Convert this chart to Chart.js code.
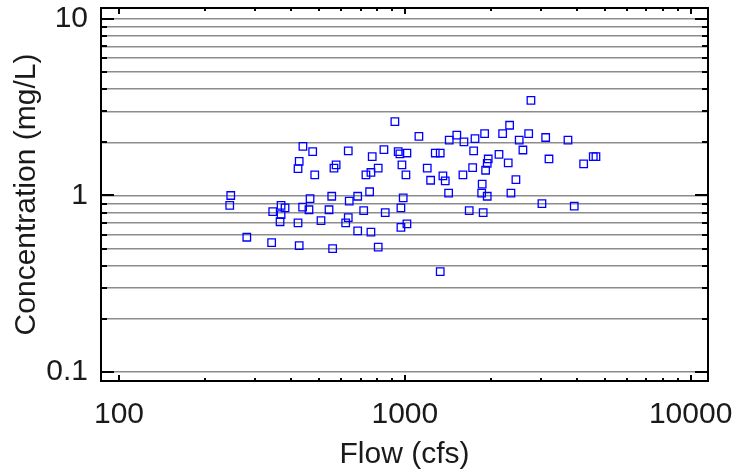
<!DOCTYPE html>
<html lang="en">
<head>
    <meta charset="UTF-8">
    <title>Concentration vs Flow</title>
    <script src="https://cdn.jsdelivr.net/npm/chart.js"></script>
    <style>
        body { margin: 0; background: #fff; }
        #wrap { width: 736px; height: 476px; }
    </style>
</head>
<body>
    <div id="wrap"><canvas id="scatterChart" width="736" height="476"></canvas></div>
    <script>
        // values (log-log axes)
        const flowCfs = [
            923, 1120, 1520, 1430, 1610, 1760, 440, 476, 634, 845,
            948, 961, 1017, 769, 1278, 1330, 1741, 427, 423, 575,
            565, 484, 807, 761, 731, 977, 1009, 1198, 1359, 1231,
            1385, 1597, 1727, 1423, 246, 244, 466, 555, 684, 753,
            987, 639, 369, 381, 345, 369, 439, 462, 543, 718,
            854, 969, 366, 423, 509, 634, 621, 684, 761, 969,
            1017, 280, 342, 427, 559, 807, 1330, 2762, 2326, 2199,
            2712, 1902, 2513, 3110, 3722, 2589, 2135, 1958, 1942, 2300,
            3194, 4223, 4563, 4663, 1917, 2447, 1865, 1857, 1942, 2351,
            1680, 1880, 3018, 3915
        ];
        const concMgL = [
            2.62, 2.16, 2.20, 2.06, 2.01, 2.10, 1.90, 1.77, 1.79, 1.82,
            1.77, 1.72, 1.74, 1.66, 1.74, 1.74, 1.79, 1.56, 1.42, 1.49,
            1.43, 1.31, 1.43, 1.35, 1.31, 1.49, 1.31, 1.43, 1.29, 1.22,
            1.21, 1.31, 1.44, 1.03, 1.00, 0.88, 0.96, 0.99, 0.99, 1.05,
            0.97, 0.93, 0.88, 0.85, 0.81, 0.78, 0.86, 0.83, 0.83, 0.82,
            0.80, 0.85, 0.71, 0.70, 0.72, 0.75, 0.70, 0.63, 0.62, 0.66,
            0.69, 0.58, 0.54, 0.52, 0.50, 0.51, 0.37, 3.46, 2.50, 2.24,
            2.24, 2.24, 2.06, 2.13, 2.06, 1.81, 1.71, 1.61, 1.52, 1.53,
            1.61, 1.51, 1.66, 1.66, 1.39, 1.23, 1.16, 1.03, 0.99, 1.03,
            0.82, 0.80, 0.90, 0.87
        ];
        const xTicks = [100, 200, 300, 400, 500, 600, 700, 800, 900,
                        1000, 2000, 3000, 4000, 5000, 6000, 7000, 8000, 9000, 10000];
        const yTicks = [0.1, 0.2, 0.3, 0.4, 0.5, 0.6, 0.7, 0.8, 0.9,
                        1, 2, 3, 4, 5, 6, 7, 8, 9, 10];
        const xTickLabels = { 100: '100', 1000: '1000', 10000: '10000' };
        const yTickLabels = { 0.1: '0.1', 1: '1', 10: '10' };

        const points = flowCfs.map((f, i) => ({ x: f, y: concMgL[i] }));
        const textColor = '#1a1a1a';
        const font = { family: "'Liberation Sans', Arial, sans-serif", size: 30 };

        function isDecade(v) {
            const l = Math.log10(v);
            return Math.abs(l - Math.round(l)) < 1e-6;
        }

        function noOverflow(s) {
            s.paddingTop = 0; s.paddingBottom = 0;
            s.paddingLeft = 0; s.paddingRight = 0;
        }

        // box frame + inward tick marks on all four sides
        const frameTicks = {
            id: 'frameTicks',
            afterDraw(chart) {
                const { ctx, chartArea: a, scales } = chart;
                ctx.save();
                ctx.strokeStyle = '#000';
                ctx.lineWidth = 2;
                ctx.beginPath();
                yTicks.forEach(v => {
                    const y = Math.round(scales.y.getPixelForValue(v));
                    const len = isDecade(v) ? 13 : 6;
                    ctx.moveTo(a.left, y); ctx.lineTo(a.left + len, y);
                    ctx.moveTo(a.right, y); ctx.lineTo(a.right - len, y);
                });
                xTicks.forEach(v => {
                    const x = Math.round(scales.x.getPixelForValue(v));
                    const len = isDecade(v) ? 6 : 3;
                    ctx.moveTo(x, a.bottom); ctx.lineTo(x, a.bottom - len);
                    ctx.moveTo(x, a.top); ctx.lineTo(x, a.top + len);
                });
                ctx.stroke();
                ctx.strokeRect(a.left, a.top, a.right - a.left, a.bottom - a.top);
                ctx.restore();
            }
        };

        new Chart(document.getElementById('scatterChart'), {
            type: 'scatter',
            data: {
                datasets: [{
                    data: points,
                    pointStyle: 'rect',
                    pointRadius: 5.3,
                    pointHoverRadius: 5.3,
                    borderColor: '#0000ff',
                    backgroundColor: 'rgba(0,0,0,0)',
                    borderWidth: 1.3
                }]
            },
            options: {
                responsive: false,
                animation: false,
                layout: { padding: { top: 8, right: 28, left: 0, bottom: 0 } },
                plugins: { legend: { display: false }, tooltip: { enabled: false } },
                scales: {
                    x: {
                        type: 'logarithmic',
                        min: 86.5,
                        max: 11500,
                        afterBuildTicks: s => { s.ticks = xTicks.map(v => ({ value: v })); },
                        afterFit: s => { s.height = 95; noOverflow(s); },
                        grid: { display: false, drawTicks: false },
                        border: { display: false },
                        ticks: {
                            autoSkip: false,
                            maxRotation: 0,
                            padding: 16,
                            color: textColor,
                            font: font,
                            callback: v => xTickLabels[v] || ''
                        },
                        title: {
                            display: true,
                            text: 'Flow (cfs)',
                            color: textColor,
                            font: font,
                            padding: { top: 0, bottom: 3 }
                        }
                    },
                    y: {
                        type: 'logarithmic',
                        min: 0.0889,
                        max: 11.54,
                        afterBuildTicks: s => { s.ticks = yTicks.map(v => ({ value: v })); },
                        afterFit: s => { s.width = 101; noOverflow(s); },
                        grid: { color: '#8c8c8c', lineWidth: 1.5, drawTicks: false },
                        border: { display: false },
                        ticks: {
                            autoSkip: false,
                            padding: 13,
                            color: textColor,
                            font: font,
                            callback: v => yTickLabels[v] || ''
                        },
                        title: {
                            display: true,
                            text: 'Concentration (mg/L)',
                            color: textColor,
                            font: font,
                            padding: { top: 9, bottom: 0 }
                        }
                    }
                }
            },
            plugins: [frameTicks]
        });
    </script>
</body>
</html>
